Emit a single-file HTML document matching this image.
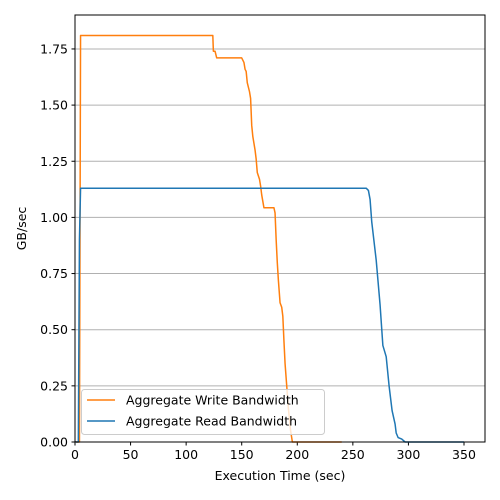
<!DOCTYPE html>
<html><head><meta charset="utf-8"><style>
html,body{margin:0;padding:0;background:#fff;overflow:hidden;width:500px;height:500px}
svg{display:block}
svg text{font-family:"DejaVu Sans","Liberation Sans",sans-serif;font-size:12.5px;fill:#000}
</style></head><body>
<svg id="c" width="500" height="500" xmlns="http://www.w3.org/2000/svg"></svg>
<script>
const xTicks=[0,50,100,150,200,250,300,350];
const yTicks=[0,0.25,0.5,0.75,1.0,1.25,1.5,1.75];
const writeX=[0,4,5,124,124.5,126,127.5,150,151,152,153,154,155,157,158,159,160,161,162,163,164,166,167,168,170,179,180,181,182,183,184.5,186,187,188,189,190.5,192,194,195.6,240];
const writeY=[0,0,1.81,1.81,1.74,1.74,1.71,1.71,1.70,1.69,1.66,1.65,1.60,1.56,1.53,1.41,1.36,1.33,1.30,1.26,1.20,1.17,1.14,1.10,1.043,1.043,1.02,0.90,0.80,0.72,0.62,0.60,0.56,0.45,0.35,0.25,0.15,0.05,0,0];
const readX=[0,3,4,5,262,264,265.5,267,271,274.5,277,280,282.6,285.3,288,289,290.7,294,297,350];
const readY=[0,0,0.9,1.13,1.13,1.12,1.08,0.98,0.81,0.61,0.43,0.38,0.25,0.14,0.08,0.04,0.02,0.013,0,0];
const L=75,R=485,T=15,B=442,XMAX=(485-75)/1.1114,YMAX=(442-15)/224.6;
const sx=v=>L+v*(R-L)/XMAX, sy=v=>B-v*(B-T)/YMAX;
const svg=document.getElementById('c');const NS='http://www.w3.org/2000/svg';
function mk(t,a,p){const e=document.createElementNS(NS,t);for(const k in a)e.setAttribute(k,a[k]);(p||svg).appendChild(e);return e;}
yTicks.forEach(v=>{const g=mk('line',{x1:L,x2:R,y1:sy(v),y2:sy(v),stroke:'#b0b0b0','stroke-width':1});


const t=mk('line',{x1:L-3.5,x2:L,y1:sy(v),y2:sy(v),stroke:'#000'});


const l=mk('text',{x:L-7,y:sy(v)+4.5,'text-anchor':'end'});l.textContent=v.toFixed(2);

});
xTicks.forEach(v=>{const t=mk('line',{x1:sx(v),x2:sx(v),y1:B,y2:B+3.5,stroke:'#000'});


const l=mk('text',{x:sx(v),y:B+17,'text-anchor':'middle'});l.textContent=v;

});
function line(xs,ys,c,n){const p=mk('polyline',{points:xs.map((x,i)=>sx(x)+','+sy(ys[i])).join(' '),fill:'none',stroke:c,'stroke-width':1.5,'stroke-linejoin':'round'});

}
line(writeX,writeY,'#ff7f0e','write-bandwidth-line');
line(readX,readY,'#1f77b4','read-bandwidth-line');
const fr=mk('rect',{x:L,y:T,width:R-L,height:B-T,fill:'none',stroke:'#000','stroke-width':1});


const xl=mk('text',{x:(L+R)/2,y:480,'text-anchor':'middle'});xl.textContent='Execution Time (sec)';


const yl=mk('text',{x:26,y:(T+B)/2,'text-anchor':'middle',transform:'rotate(-90 26 '+(T+B)/2+')'});yl.textContent='GB/sec';


const lg=mk('g',{});


mk('rect',{x:81.5,y:389.5,width:243,height:45,rx:3,fill:'#fff','fill-opacity':0.8,stroke:'#ccc'},lg);
[['Aggregate Write Bandwidth','#ff7f0e',400],['Aggregate Read Bandwidth','#1f77b4',421]].forEach(([s,c,y])=>{
const e=mk('g',{},lg);


mk('line',{x1:87,x2:115,y1:y,y2:y,stroke:c,'stroke-width':1.5},e);
const t=mk('text',{x:126,y:y+4.5},e);t.textContent=s;});
</script>
</body></html>
